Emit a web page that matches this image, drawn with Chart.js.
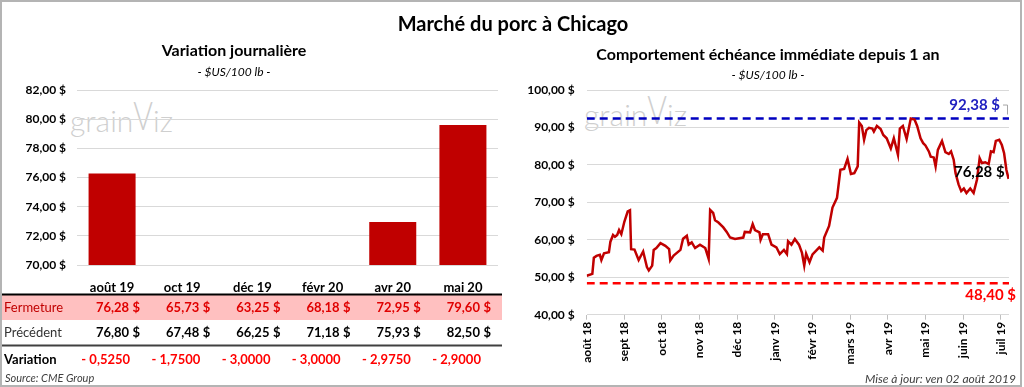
<!DOCTYPE html>
<html lang="fr">
<head>
<meta charset="utf-8">
<script src="https://cdn.jsdelivr.net/npm/chart.js@4.4.0/dist/chart.umd.min.js"></script>
<style>
  body { margin: 0; background: #fff; font-family: Lato, "Noto Sans", sans-serif; }
  #cadre { position: relative; width: 1022px; height: 387px; box-sizing: border-box; border: 2px solid #b4b4b4; overflow: hidden; }
  .abs { position: absolute; white-space: nowrap; }
  .titre { font-weight: bold; color: #000; }
  .sous { font-style: italic; font-size: 12px; color: #000; }
  .wm { color: #cfcfcf; font-size: 30px; font-weight: 300; }
  .wm span { display: inline-block; transform: scaleY(1.3); transform-origin: bottom; font-weight: 300; }
  canvas { position: absolute; top: 0; }
</style>
</head>
<body>
<div id="cadre">
  <div class="abs wm" style="left:68px; top:100px;">grain<span>V</span>iz</div>
  <div class="abs wm" style="left:582px; top:94px;">grain<span>V</span>iz</div>
  <canvas id="gauche" width="505" height="387" style="left:-2px;top:-2px;"></canvas>
  <canvas id="droite" width="519" height="387" style="left:503px;top:-2px;"></canvas>
  <div class="abs titre" style="left:0; width:1022px; text-align:center; top:9px; font-size:20px;">Marché du porc à Chicago</div>
  <div class="abs titre" style="left:0; width:464px; text-align:center; top:38px; font-size:16px;">Variation journalière</div>
  <div class="abs sous" style="left:0; width:464px; text-align:center; top:62px;">- $US/100 lb -</div>
  <div class="abs titre" style="left:520px; width:492px; text-align:center; top:42px; font-size:16px;">Comportement échéance immédiate depuis 1 an</div>
  <div class="abs sous" style="left:520px; width:492px; text-align:center; top:65px;">- $US/100 lb -</div>
  <div class="abs sous" style="left:3px; top:369px; font-size:11px; color:#404040;">Source: CME Group</div>
  <div class="abs sous" style="right:4px; top:369px; font-size:12px; color:#404040;">Mise à jour: ven 02 août 2019</div>
</div>
<script>
// ---- Variation journalière ----
var echeances = ['août 19', 'oct 19', 'déc 19', 'févr 20', 'avr 20', 'mai 20'];
var fermeture = [76.28, 65.73, 63.25, 68.18, 72.95, 79.60];
var precedent = [76.80, 67.48, 66.25, 71.18, 75.93, 82.50];
var variation = [-0.5250, -1.7500, -3.0000, -3.0000, -2.9750, -2.9000];

// ---- Comportement échéance immédiate (position en mois depuis août 18) ----
var mois = ['août 18', 'sept 18', 'oct 18', 'nov 18', 'déc 18', 'janv 19', 'févr 19', 'mars 19', 'avr 19', 'mai 19', 'juin 19', 'juil 19'];
var moisX = [0.00, 0.15, 0.19, 0.26, 0.35, 0.39, 0.46, 0.59, 0.63, 0.70, 0.75, 0.81, 0.86, 0.92, 1.00, 1.09, 1.15, 1.18, 1.27, 1.38,
             1.50, 1.60, 1.65, 1.74, 1.78, 1.85, 1.96, 2.09, 2.19, 2.22, 2.31, 2.49, 2.56, 2.66, 2.71, 2.79, 2.88, 3.01, 3.15, 3.24,
             3.28, 3.36, 3.41, 3.50, 3.63, 3.72, 3.81, 3.94, 4.16, 4.20, 4.34, 4.41, 4.47, 4.59, 4.62, 4.68, 4.82, 4.91, 5.04, 5.13,
             5.24, 5.32, 5.35, 5.44, 5.53, 5.64, 5.72, 5.78, 5.83, 5.92, 6.00, 6.18, 6.27, 6.31, 6.44, 6.53, 6.65, 6.74, 6.84, 6.93,
             7.02, 7.11, 7.20, 7.24, 7.31, 7.37, 7.43, 7.50, 7.59, 7.63, 7.71, 7.81, 7.88, 7.97, 8.08, 8.16, 8.27, 8.32, 8.40, 8.50,
             8.61, 8.71, 8.78, 8.87, 8.94, 9.00, 9.09, 9.14, 9.22, 9.27, 9.33, 9.44, 9.53, 9.62, 9.68, 9.75, 9.80, 9.88, 9.95, 10.02,
             10.09, 10.19, 10.28, 10.37, 10.44, 10.50, 10.59, 10.68, 10.74, 10.81, 10.87, 10.96, 11.03, 11.09, 11.15, 11.21];
var prix = [50.4, 50.9, 55.2, 55.7, 56.0, 54.6, 56.4, 56.7, 59.5, 61.3, 60.8, 61.3, 62.6, 61.5, 64.8, 67.6, 67.9, 57.5, 57.4, 54.6,
            56.9, 52.7, 51.8, 53.1, 57.3, 57.8, 59.1, 58.4, 57.5, 54.5, 55.8, 57.3, 60.3, 61.1, 58.7, 59.3, 57.8, 58.7, 57.8, 54.9,
            68.0, 67.2, 65.2, 64.6, 63.3, 62.1, 60.6, 60.2, 60.6, 62.1, 62.0, 64.2, 62.6, 62.0, 60.0, 61.5, 61.5, 58.7, 58.0, 56.2,
            57.3, 56.2, 59.6, 58.7, 60.2, 58.7, 56.5, 53.1, 56.3, 54.0, 56.1, 58.0, 57.1, 60.6, 63.7, 68.6, 71.2, 78.7, 78.9, 81.6,
            77.6, 77.8, 79.6, 91.3, 90.4, 86.7, 89.3, 89.9, 89.7, 88.9, 90.4, 89.6, 88.0, 87.1, 84.4, 87.1, 82.7, 89.7, 90.4, 86.9,
            92.38, 92.1, 90.4, 87.1, 85.8, 85.2, 83.6, 82.2, 82.0, 79.6, 84.0, 86.4, 83.4, 82.9, 83.6, 81.4, 77.8, 74.8, 73.0, 73.7,
            72.5, 73.7, 72.5, 76.1, 81.8, 80.5, 80.7, 80.2, 83.6, 83.4, 86.4, 86.7, 85.3, 83.1, 78.7, 76.28];
var prixMax = 92.38;
var prixMin = 48.40;

var police = 'Lato, "Noto Sans", sans-serif';
Chart.defaults.font.family = police;
Chart.defaults.animation = false;

function fr(v, d) {
    return v.toFixed(d).replace('.', ',');
}

function trait(ctx, x1, y1, x2, y2) {
    ctx.beginPath();
    ctx.moveTo(x1, y1);
    ctx.lineTo(x2, y2);
    ctx.stroke();
}

// Tableau sous le graphique de gauche, colonnes alignées sur l'axe x
var tableau = {
    id: 'tableau',
    afterDraw(chart) {
        var ctx = chart.ctx, x = chart.scales.x;
        ctx.save();
        ctx.fillStyle = '#FFC0C0';
        ctx.fillRect(0, 295, 502, 25);
        ctx.strokeStyle = '#000';
        ctx.lineWidth = 2;
        trait(ctx, 0, 294.5, 502, 294.5);
        ctx.strokeStyle = '#404040';
        trait(ctx, 0, 345.5, 502, 345.5);

        ctx.textBaseline = 'middle';
        ctx.textAlign = 'left';
        ctx.font = '13px ' + police;
        ctx.fillStyle = '#C00000';
        ctx.fillText('Fermeture', 4, 308);
        ctx.fillStyle = '#333';
        ctx.fillText('Précédent', 4, 333);
        ctx.font = 'bold 13px ' + police;
        ctx.fillStyle = '#000';
        ctx.fillText('Variation', 4, 360);

        ctx.textAlign = 'right';
        echeances.forEach((e, i) => {
            var cx = x.getPixelForValue(i);
            ctx.fillStyle = '#E00000';
            ctx.fillText(fr(fermeture[i], 2), cx + 17, 308);
            ctx.fillText('$', cx + 28, 308);
            ctx.fillStyle = '#000';
            ctx.fillText(fr(precedent[i], 2), cx + 17, 333);
            ctx.fillText('$', cx + 28, 333);
            ctx.fillStyle = '#FF0000';
            ctx.fillText('- ' + fr(Math.abs(variation[i]), 4), cx + 18, 360);
        });
        ctx.restore();
    }
};

new Chart(document.getElementById('gauche'), {
    type: 'bar',
    data: {
        labels: echeances,
        datasets: [{
            data: fermeture,
            backgroundColor: '#C00000',
            barPercentage: 0.67,
            categoryPercentage: 1
        }]
    },
    options: {
        responsive: false,
        layout: { padding: { top: 90, right: 7, left: 2, bottom: 0 } },
        plugins: { legend: { display: false }, tooltip: { enabled: false } },
        scales: {
            x: {
                grid: { display: false },
                border: { display: false },
                ticks: { color: '#000', font: { size: 13, weight: 'bold' }, padding: 7, maxRotation: 0 },
                afterFit: s => { s.height = 122; }
            },
            y: {
                min: 70,
                max: 82,
                ticks: { stepSize: 2, color: '#000', font: { size: 12, weight: 'bold' }, padding: 11,
                         callback: v => fr(v, 2) + ' $' },
                grid: { color: '#d9d9d9', drawTicks: false },
                border: { display: false },
                afterFit: s => { s.width = 75; }
            }
        }
    },
    plugins: [tableau]
});

// Étiquettes du max, du min et du dernier prix
var etiquettes = {
    id: 'etiquettes',
    afterDraw(chart) {
        var ctx = chart.ctx, y = chart.scales.y, x = chart.scales.x;
        var yMax = y.getPixelForValue(prixMax);
        var yMin = y.getPixelForValue(prixMin);
        var n = prix.length - 1;
        ctx.save();
        ctx.textAlign = 'right';
        ctx.textBaseline = 'middle';
        ctx.font = 'bold 15px ' + police;
        ctx.fillStyle = '#2020C0';
        ctx.fillText(fr(prixMax, 2) + ' $', chart.chartArea.right - 9, yMax - 13);
        ctx.fillStyle = '#FF0000';
        ctx.fillText(fr(prixMin, 2) + ' $', chart.chartArea.right + 7, yMin + 12);
        ctx.fillStyle = '#000';
        ctx.fillText(fr(prix[n], 2) + ' $', x.getPixelForValue(moisX[n]) - 4, y.getPixelForValue(prix[n]) - 7);
        ctx.strokeStyle = '#a6a6a6';
        ctx.lineWidth = 1;
        ctx.beginPath();
        ctx.moveTo(chart.chartArea.right - 6, yMax - 13.5);
        ctx.lineTo(chart.chartArea.right - 1.5, yMax - 13.5);
        ctx.lineTo(chart.chartArea.right - 1.5, yMax - 4);
        ctx.stroke();
        ctx.restore();
    }
};

var xFin = 11.22;
new Chart(document.getElementById('droite'), {
    type: 'line',
    data: {
        datasets: [{
            data: moisX.map((m, i) => ({ x: m, y: prix[i] })),
            borderColor: '#C00000',
            borderWidth: 2.5,
            pointRadius: 0
        }, {
            data: [{ x: 0, y: prixMax }, { x: xFin, y: prixMax }],
            borderColor: '#0000C0',
            borderWidth: 2.5,
            borderDash: [8, 5],
            pointRadius: 0
        }, {
            data: [{ x: 0, y: prixMin }, { x: xFin, y: prixMin }],
            borderColor: '#FF0000',
            borderWidth: 2.5,
            borderDash: [8, 5],
            pointRadius: 0
        }]
    },
    options: {
        responsive: false,
        layout: { padding: { top: 90, right: 15, left: 2, bottom: 0 } },
        plugins: { legend: { display: false }, tooltip: { enabled: false } },
        scales: {
            x: {
                type: 'linear',
                min: 0,
                max: xFin,
                afterBuildTicks: s => { s.ticks = mois.map((m, i) => ({ value: i })); },
                ticks: { autoSkip: false, maxRotation: 90, minRotation: 90, padding: 2, color: '#000',
                         font: { size: 12, weight: 'bold' }, callback: v => mois[v] },
                grid: { drawOnChartArea: false, color: '#bfbfbf', tickLength: 5 },
                border: { display: false },
                afterFit: s => { s.height = 72.3; }
            },
            y: {
                min: 40,
                max: 100,
                ticks: { stepSize: 10, color: '#000', font: { size: 12, weight: 'bold' }, padding: 12,
                         callback: v => fr(v, 2) + ' $' },
                grid: { color: '#d9d9d9', drawTicks: false },
                border: { display: false },
                afterFit: s => { s.width = 79.7; }
            }
        }
    },
    plugins: [etiquettes]
});
</script>
</body>
</html>
